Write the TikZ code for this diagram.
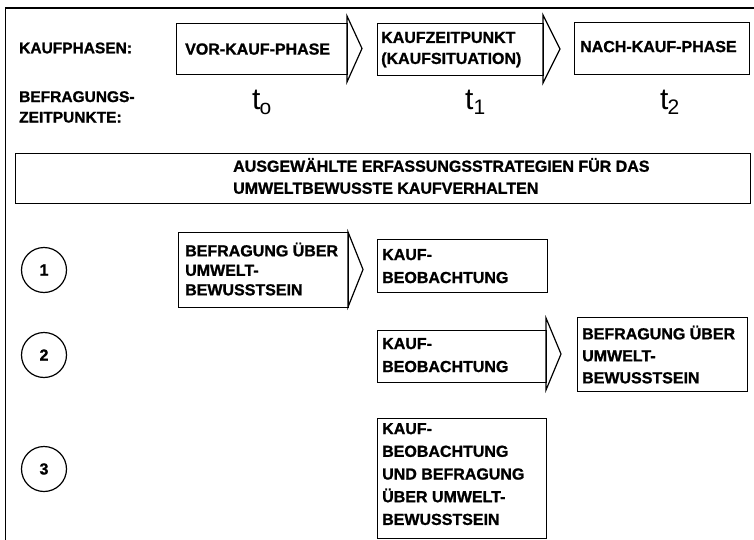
\documentclass[tikz,border=0pt]{standalone}
\usepackage{fontspec}
\setmainfont{Liberation Sans}[BoldFeatures={FakeBold=1.2}]
\tikzset{
  lw/.style={line width=1.2pt},
  boxshape/.style={draw, lw, rectangle, anchor=north west, inner sep=0pt, line join=miter},
  txt/.style={anchor=west, align=left, inner sep=0pt, font=\bfseries\fontsize{16}{22}\selectfont},
  lab/.style={anchor=west, align=left, inner sep=0pt, font=\bfseries\fontsize{15.5}{21}\selectfont},
  numc/.style={draw, lw, circle, minimum size=45pt, inner sep=0pt, font=\bfseries\fontsize{16}{16}\selectfont},
  head/.style={draw, lw, line join=miter},
  tlab/.style={anchor=base west, inner sep=0pt}
}
\newcommand{\tsubx}[2]{{\fontsize{30}{30}\selectfont t}\kern#2\raisebox{-5pt}{\fontsize{21}{21}\selectfont #1}}
\begin{document}
\begin{tikzpicture}[x=1pt, y=-1pt]
\useasboundingbox (0,0) rectangle (754,540);
% frame
\draw[lw] (754,8) -- (5.5,8) -- (5.5,540);

% row labels
\node[lab] (kp) at (19,48) {KAUFPHASEN:};
\node[lab, anchor=north west, font=\bfseries\fontsize{15.5}{20.5}\selectfont] (bz) at (19,91) {BEFRAGUNGS-\\ZEITPUNKTE:};

% phase boxes
\node[boxshape, minimum width=171pt, minimum height=51pt] (vor) at (176,23) {};
\draw[head] (347,16) -- (362,48.5) -- (347,82) -- cycle;
\node[txt] (vort) at ([xshift=9pt]vor.west) {VOR-KAUF-PHASE};

\node[boxshape, minimum width=166pt, minimum height=52pt] (kz) at (377,23) {};
\draw[head] (543,15) -- (560,49) -- (543,83) -- cycle;
\node[txt, font=\bfseries\fontsize{16}{21}\selectfont] (kzt) at ([xshift=4pt]kz.west) {KAUFZEITPUNKT\\(KAUFSITUATION)};

\node[boxshape, minimum width=175pt, minimum height=52pt] (nach) at (574,22) {};
\node[txt] (nacht) at ([xshift=6pt,yshift=2pt]nach.west) {NACH-KAUF-PHASE};

% time points
\node[tlab] (t0) at (252,110) {\tsubx{o}{-1pt}};
\node[tlab] (t1) at (465,110) {\tsubx{1}{0pt}};
\node[tlab] (t2) at (660,110) {\tsubx{2}{-1pt}};

% big box
\node[boxshape, minimum width=735pt, minimum height=50pt] (big) at (15,153) {};
\node[txt, font=\bfseries\fontsize{16}{22}\selectfont] (bigt) at (233,176) {AUSGEWÄHLTE ERFASSUNGSSTRATEGIEN FÜR DAS\\UMWELTBEWUSSTE KAUFVERHALTEN};

% circles
\node[numc] (c1) at (44,270) {1};
\node[numc] (c2) at (44,355) {2};
\node[numc] (c3) at (44,469) {3};

% strategy 1
\node[boxshape, minimum width=170pt, minimum height=75pt] (b1) at (178,232) {};
\draw[head] (348,232) -- (363,269.5) -- (348,307) -- cycle;
\node[txt, font=\bfseries\fontsize{16}{19.5}\selectfont] (b1t) at ([xshift=7pt,yshift=1pt]b1.west) {BEFRAGUNG ÜBER\\UMWELT-\\BEWUSSTSEIN};

\node[boxshape, minimum width=170pt, minimum height=53pt] (k1) at (377,239) {};
\node[txt, font=\bfseries\fontsize{16}{23}\selectfont] (k1t) at ([xshift=5pt]k1.west) {KAUF-\\BEOBACHTUNG};

% strategy 2
\node[boxshape, minimum width=169pt, minimum height=52pt] (k2) at (377,330) {};
\draw[head] (546,318) -- (561,354) -- (546,390) -- cycle;
\node[txt, font=\bfseries\fontsize{16}{23}\selectfont] (k2t) at ([xshift=5pt,yshift=1.5pt]k2.west) {KAUF-\\BEOBACHTUNG};

\node[boxshape, minimum width=170pt, minimum height=74pt] (b2) at (577,317) {};
\node[txt] (b2t) at ([xshift=5pt]b2.west) {BEFRAGUNG ÜBER\\UMWELT-\\BEWUSSTSEIN};

% strategy 3
\node[boxshape, minimum width=169pt, minimum height=120pt] (k3) at (377,418) {};
\node[txt, font=\bfseries\fontsize{16}{22.7}\selectfont] (k3t) at ([xshift=5pt,yshift=4.5pt]k3.west) {KAUF-\\BEOBACHTUNG\\UND BEFRAGUNG\\ÜBER UMWELT-\\BEWUSSTSEIN};
\end{tikzpicture}
\end{document}
